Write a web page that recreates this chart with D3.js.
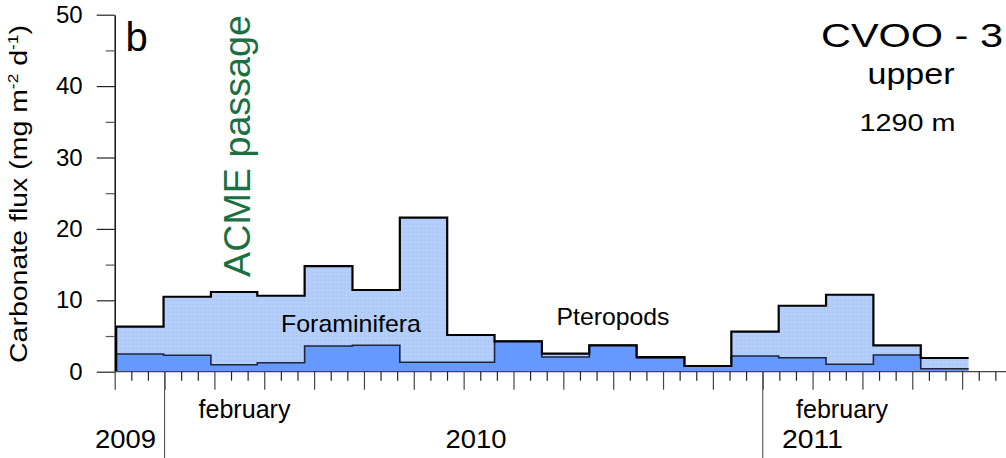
<!DOCTYPE html>
<html>
<head>
<meta charset="utf-8">
<script src="https://cdn.jsdelivr.net/npm/d3@7"></script>
<style>
  body { margin: 0; background: #fff; }
  svg { display: block; }
  text { font-family: "Liberation Sans", Arial, Helvetica, sans-serif; fill: #000; }
</style>
</head>
<body>
<svg id="chart" width="1006" height="458"></svg>
<script>
// Trap cup sampling windows, in months counted from 1 December 2009
const cupOpen  = [0.03, 0.98, 1.93, 2.86, 3.81, 4.77, 5.72, 6.67, 7.62, 8.57, 9.52, 10.47, 11.43, 12.37, 13.32, 14.27, 15.22, 16.17];
const cupClose = [0.98, 1.93, 2.86, 3.81, 4.77, 5.72, 6.67, 7.62, 8.57, 9.52, 10.47, 11.43, 12.37, 13.32, 14.27, 15.22, 16.17, 17.13];

// Carbonate flux per cup (mg m-2 d-1)
const pteropods    = [2.48, 2.30, 0.98, 1.26, 3.60, 3.70, 1.32, 1.32, 4.26, 2.06, 3.70, 1.92, 0.80, 2.20, 1.96, 1.04, 2.34, 0.42];
const foraminifera = [3.82, 8.20, 10.18, 9.38, 11.20, 7.74, 20.25, 3.82, 0.00, 0.46, 0.00, 0.14, 0.00, 3.40, 7.28, 9.74, 1.36, 1.50];

// Axis labels
const yTickValues = [0, 10, 20, 30, 40, 50];
const yMinorValues = [5, 15, 25, 35, 45];
const yearLabels = ["2009", "2010", "2011"];
const yearLabelAt = [-0.395, 6.636, 13.386];
const monthLabels = ["february", "february"];
const monthLabelAt = [1.681, 13.667];
const yearBreaks = [1, 13];

const svg = d3.select("#chart");

const x = d3.scaleLinear().domain([0, 17.86]).range([114.7, 1005]);
const y = d3.scaleLinear().domain([0, 50]).range([371.7, 14.7]);

// stippled light-blue fill for the foraminifera band
const defs = svg.append("defs");
const pat = defs.append("pattern")
  .attr("id", "stipple").attr("patternUnits", "userSpaceOnUse")
  .attr("width", 4).attr("height", 4);
pat.append("rect").attr("width", 4).attr("height", 4).attr("fill", "#b3cdfb");
pat.append("rect").attr("x", 0).attr("y", 0).attr("width", 1).attr("height", 1).attr("fill", "#a7c3f6");
pat.append("rect").attr("x", 2).attr("y", 2).attr("width", 1).attr("height", 1).attr("fill", "#bcd3fc");

// stack pteropods below foraminifera
const rows = cupOpen.map((o, i) => ({
  open: o, close: cupClose[i], pteropods: pteropods[i], foraminifera: foraminifera[i]
}));
const series = d3.stack().keys(["pteropods", "foraminifera"])(rows);

// each cup becomes a flat step between its open and close times
const steps = layer => layer.flatMap(d => [
  { m: d.data.open,  y0: d[0], y1: d[1] },
  { m: d.data.close, y0: d[0], y1: d[1] }
]);

const area = d3.area().x(d => x(d.m)).y0(d => y(d.y0)).y1(d => y(d.y1));
const line = d3.line().x(d => x(d.m)).y(d => y(d.y));

const pterSteps = steps(series[0]);
const foramSteps = steps(series[1]);

// fills
svg.append("path").attr("d", area(foramSteps)).attr("fill", "url(#stipple)");
svg.append("path").attr("d", area(pterSteps)).attr("fill", "#6699ff");

// pteropod top outline
svg.append("path")
  .attr("d", line(pterSteps.map(d => ({ m: d.m, y: d.y1 }))))
  .attr("fill", "none").attr("stroke", "#1e2638").attr("stroke-width", 1.6);

// total flux outline, closed down to zero at the first cup
const totalPts = [{ m: cupOpen[0], y: 0 }].concat(foramSteps.map(d => ({ m: d.m, y: d.y1 })));
svg.append("path")
  .attr("d", line(totalPts))
  .attr("fill", "none").attr("stroke", "#000").attr("stroke-width", 2.2)
  .attr("stroke-linejoin", "miter");

// y axis
const yAxis = svg.append("g").attr("transform", `translate(${x(0)},0)`)
  .call(d3.axisLeft(y).tickValues(yTickValues).tickSize(18).tickSizeOuter(0).tickPadding(14));
yAxis.select(".domain").attr("stroke", "#000").attr("stroke-width", 1.4);
yAxis.selectAll(".tick line").attr("stroke", "#222").attr("stroke-width", 1.2);
yAxis.selectAll(".tick text").attr("font-size", 24)
  .attr("font-family", "'Liberation Sans', Arial, sans-serif").attr("fill", "#000");

const yMinor = svg.append("g").attr("transform", `translate(${x(0)},0)`)
  .call(d3.axisLeft(y).tickValues(yMinorValues).tickSize(9).tickFormat(""));
yMinor.select(".domain").remove();
yMinor.selectAll(".tick line").attr("stroke", "#555").attr("stroke-width", 1.2);

// x axis: monthly ticks long, ten-day ticks short
const monthTicks = d3.range(0, 18);
const thirdTicks = d3.range(0, 54).filter(k => k % 3 !== 0).map(k => k / 3);

svg.append("line")
  .attr("x1", x(0)).attr("x2", 1006).attr("y1", y(0)).attr("y2", y(0))
  .attr("stroke", "#444").attr("stroke-width", 1.2);

const xMonth = svg.append("g").attr("transform", `translate(0,${y(0)})`)
  .call(d3.axisBottom(x).tickValues(monthTicks).tickSize(18).tickFormat(""));
xMonth.select(".domain").remove();
xMonth.selectAll(".tick line").attr("stroke", "#444").attr("stroke-width", 1.2);

const xThird = svg.append("g").attr("transform", `translate(0,${y(0)})`)
  .call(d3.axisBottom(x).tickValues(thirdTicks).tickSize(9).tickFormat(""));
xThird.select(".domain").remove();
xThird.selectAll(".tick line").attr("stroke", "#222").attr("stroke-width", 1.2);

// year boundaries
svg.selectAll(".yearBreak").data(yearBreaks).join("line")
  .attr("class", "yearBreak")
  .attr("x1", d => x(d)).attr("x2", d => x(d))
  .attr("y1", y(0)).attr("y2", 458)
  .attr("stroke", "#555").attr("stroke-width", 1.1);

svg.selectAll(".yearLabel").data(yearLabels).join("text")
  .attr("class", "yearLabel")
  .attr("x", (d, i) => x(yearLabelAt[i])).attr("y", 448)
  .attr("font-size", 26).attr("textLength", 61).attr("lengthAdjust", "spacingAndGlyphs")
  .text(d => d);

svg.selectAll(".monthLabel").data(monthLabels).join("text")
  .attr("class", "monthLabel")
  .attr("x", (d, i) => x(monthLabelAt[i])).attr("y", 418.3)
  .attr("font-size", 25).attr("textLength", 92).attr("lengthAdjust", "spacingAndGlyphs")
  .text(d => d);

// y axis title
const yTitle = svg.append("text")
  .attr("transform", "translate(27,194) rotate(-90)")
  .attr("text-anchor", "middle")
  .attr("font-size", 23)
  .attr("textLength", 338).attr("lengthAdjust", "spacingAndGlyphs");
yTitle.append("tspan").text("Carbonate flux (mg m");
yTitle.append("tspan").attr("font-size", 14).attr("dy", -9).text("-2");
yTitle.append("tspan").attr("dy", 9).text(" d");
yTitle.append("tspan").attr("font-size", 14).attr("dy", -9).text("-1");
yTitle.append("tspan").attr("dy", 9).text(")");

// panel annotations
svg.append("text").attr("x", 125.5).attr("y", 50.7).attr("font-size", 40).text("b");

svg.append("text")
  .attr("transform", "translate(250,146) rotate(-90)")
  .attr("text-anchor", "middle").attr("font-size", 37.5)
  .attr("textLength", 262).attr("lengthAdjust", "spacingAndGlyphs")
  .style("fill", "#1a7040")
  .text("ACME passage");

svg.append("text").attr("x", 1003).attr("y", 46.7).attr("text-anchor", "end")
  .attr("font-size", 34).attr("textLength", 182).attr("lengthAdjust", "spacingAndGlyphs")
  .text("CVOO - 3");
svg.append("text").attr("x", 911).attr("y", 84).attr("text-anchor", "middle")
  .attr("font-size", 30).attr("textLength", 87).attr("lengthAdjust", "spacingAndGlyphs")
  .text("upper");
svg.append("text").attr("x", 907.5).attr("y", 130.7).attr("text-anchor", "middle")
  .attr("font-size", 24).attr("textLength", 96).attr("lengthAdjust", "spacingAndGlyphs")
  .text("1290 m");

svg.append("text").attr("x", 281).attr("y", 331.7)
  .attr("font-size", 24).attr("textLength", 140).attr("lengthAdjust", "spacingAndGlyphs")
  .text("Foraminifera");
svg.append("text").attr("x", 556.5).attr("y", 325)
  .attr("font-size", 24.5).attr("textLength", 113).attr("lengthAdjust", "spacingAndGlyphs")
  .text("Pteropods");
</script>
</body>
</html>
